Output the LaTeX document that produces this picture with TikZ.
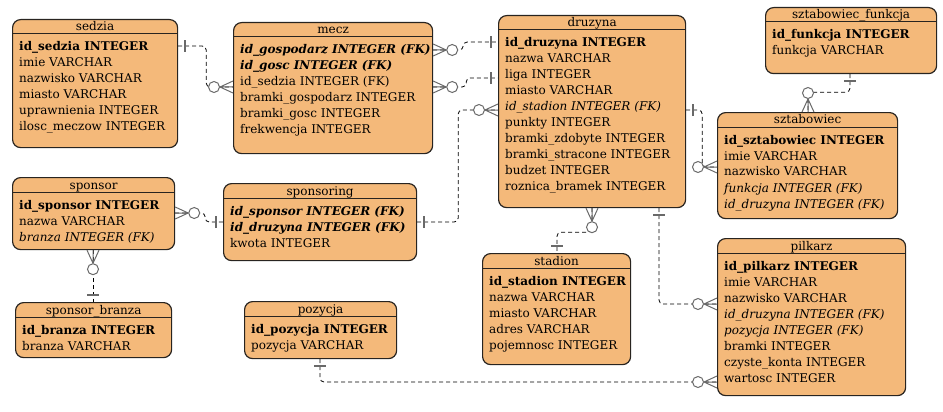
\documentclass[tikz,border=0pt]{standalone}
\usepackage{fontspec}
\setmainfont{DejaVu Serif}
\usetikzlibrary{decorations.markings}

\definecolor{boxfill}{RGB}{244,185,122}
\definecolor{boxline}{RGB}{40,36,32}
\definecolor{markgray}{RGB}{105,105,105}
\newcommand{\fieldfont}{\fontsize{12}{16}\selectfont}
\newcommand{\fieldlist}[1]{\begin{tabular}[t]{@{}l@{}}#1\end{tabular}}

\begin{document}
\begin{tikzpicture}[
        x = 1pt, y = -1pt,
        table/.style = {draw = boxline, fill = boxfill, line width = 1.2pt,
            rounded corners = 8pt, inner sep = 0pt, anchor = north west},
        title/.style = {anchor = base, inner sep = 0pt, font = \fieldfont},
        fields/.style = {anchor = base west, inner sep = 0pt, font = \fieldfont},
        headline/.style = {draw = boxline, line width = 1pt},
        rel/.style = {dash pattern = on 4pt off 3pt, line width = 0.8pt,
            rounded corners = 4pt},
        marker/.style = {solid, draw = markgray, line width = 1pt},
        crow start/.style = {postaction = {decorate, decoration = {markings,
            mark = at position 0 with {%
                \draw[marker] (13pt, 0pt) -- (0pt, 6pt) (13pt, 0pt) -- (0pt, -6pt)
                    (13pt, 0pt) -- (0pt, 0pt);
                \draw[marker, fill = white] (19pt, 0pt) circle (5.5pt);}}}},
        crow end/.style = {postaction = {decorate, decoration = {markings,
            mark = at position 1 with {%
                \draw[marker] (-13pt, 0pt) -- (0pt, 6pt) (-13pt, 0pt) -- (0pt, -6pt)
                    (-13pt, 0pt) -- (0pt, 0pt);
                \draw[marker, fill = white] (-19pt, 0pt) circle (5.5pt);}}}},
        bar start/.style = {postaction = {decorate, decoration = {markings,
            mark = at position 0 with {%
                \draw[marker, line width = 2pt] (7pt, -6pt) -- (7pt, 6pt);}}}},
        bar end/.style = {postaction = {decorate, decoration = {markings,
            mark = at position 1 with {%
                \draw[marker, line width = 2pt] (-7pt, -6pt) -- (-7pt, 6pt);}}}}
    ]

        \useasboundingbox (0, 0) rectangle (943, 412);

        % Table boxes.
        \node[table, minimum width = 165pt, minimum height = 128pt] (sedzia) at (12, 19) {};
        \node[table, minimum width = 199pt, minimum height = 131pt] (mecz) at (233, 22) {};
        \node[table, minimum width = 187pt, minimum height = 192pt] (druzyna) at (498, 15) {};
        \node[table, minimum width = 171pt, minimum height = 66pt] (funkcja) at (765, 7) {};
        \node[table, minimum width = 180pt, minimum height = 106pt] (sztabowiec) at (717, 112) {};
        \node[table, minimum width = 162pt, minimum height = 72pt] (sponsor) at (12, 177) {};
        \node[table, minimum width = 193pt, minimum height = 77pt] (sponsoring) at (223, 183) {};
        \node[table, minimum width = 156pt, minimum height = 55pt] (branza) at (15, 302) {};
        \node[table, minimum width = 152pt, minimum height = 57pt] (pozycja) at (244, 301) {};
        \node[table, minimum width = 148pt, minimum height = 111pt] (stadion) at (482, 253) {};
        \node[table, minimum width = 188pt, minimum height = 157pt] (pilkarz) at (717, 238) {};

        % Titles and header lines.
        \foreach \t/\name in {sedzia/sedzia, mecz/mecz, druzyna/druzyna,
                funkcja/sztabowiec\_funkcja, sztabowiec/sztabowiec, sponsor/sponsor,
                sponsoring/sponsoring, branza/sponsor\_branza, pozycja/pozycja,
                stadion/stadion, pilkarz/pilkarz}{%
            \node[title] (\t-title) at ([yshift = -12pt]\t.north) {\name};
            \draw[headline] ([yshift = -15pt]\t.north west) to ([yshift = -15pt]\t.north east);
        }

        % Columns.
        \node[fields] (sedzia-fields) at ([shift = {(7pt, -32pt)}]sedzia.north west) {\fieldlist{%
            \textbf{id\_sedzia INTEGER}\\ imie VARCHAR\\ nazwisko VARCHAR\\
            miasto VARCHAR\\ uprawnienia INTEGER\\ ilosc\_meczow INTEGER}};
        \node[fields] (mecz-fields) at ([shift = {(7pt, -32pt)}]mecz.north west) {\fieldlist{%
            \textbf{\textit{id\_gospodarz INTEGER (FK)}}\\ \textbf{\textit{id\_gosc INTEGER (FK)}}\\
            id\_sedzia INTEGER (FK)\\ bramki\_gospodarz INTEGER\\
            bramki\_gosc INTEGER\\ frekwencja INTEGER}};
        \node[fields] (druzyna-fields) at ([shift = {(7pt, -32pt)}]druzyna.north west) {\fieldlist{%
            \textbf{id\_druzyna INTEGER}\\ nazwa VARCHAR\\ liga INTEGER\\ miasto VARCHAR\\
            \textit{id\_stadion INTEGER (FK)}\\ punkty INTEGER\\ bramki\_zdobyte INTEGER\\
            bramki\_stracone INTEGER\\ budzet INTEGER\\ roznica\_bramek INTEGER}};
        \node[fields] (funkcja-fields) at ([shift = {(7pt, -32pt)}]funkcja.north west) {\fieldlist{%
            \textbf{id\_funkcja INTEGER}\\ funkcja VARCHAR}};
        \node[fields] (sztabowiec-fields) at ([shift = {(7pt, -32pt)}]sztabowiec.north west) {\fieldlist{%
            \textbf{id\_sztabowiec INTEGER}\\ imie VARCHAR\\ nazwisko VARCHAR\\
            \textit{funkcja INTEGER (FK)}\\ \textit{id\_druzyna INTEGER (FK)}}};
        \node[fields] (sponsor-fields) at ([shift = {(7pt, -32pt)}]sponsor.north west) {\fieldlist{%
            \textbf{id\_sponsor INTEGER}\\ nazwa VARCHAR\\ \textit{branza INTEGER (FK)}}};
        \node[fields] (sponsoring-fields) at ([shift = {(7pt, -32pt)}]sponsoring.north west) {\fieldlist{%
            \textbf{\textit{id\_sponsor INTEGER (FK)}}\\ \textbf{\textit{id\_druzyna INTEGER (FK)}}\\
            kwota INTEGER}};
        \node[fields] (branza-fields) at ([shift = {(7pt, -32pt)}]branza.north west) {\fieldlist{%
            \textbf{id\_branza INTEGER}\\ branza VARCHAR}};
        \node[fields] (pozycja-fields) at ([shift = {(7pt, -32pt)}]pozycja.north west) {\fieldlist{%
            \textbf{id\_pozycja INTEGER}\\ pozycja VARCHAR}};
        \node[fields] (stadion-fields) at ([shift = {(7pt, -32pt)}]stadion.north west) {\fieldlist{%
            \textbf{id\_stadion INTEGER}\\ nazwa VARCHAR\\ miasto VARCHAR\\
            adres VARCHAR\\ pojemnosc INTEGER}};
        \node[fields] (pilkarz-fields) at ([shift = {(7pt, -32pt)}]pilkarz.north west) {\fieldlist{%
            \textbf{id\_pilkarz INTEGER}\\ imie VARCHAR\\ nazwisko VARCHAR\\
            \textit{id\_druzyna INTEGER (FK)}\\ \textit{pozycja INTEGER (FK)}\\
            bramki INTEGER\\ czyste\_konta INTEGER\\ wartosc INTEGER}};

        % Relationships.
        \draw[rel, bar start, crow end] (sedzia.east |- 0, 46) -- ++(28, 0) |- (mecz.west |- 0, 87);
        \draw[rel, crow start, bar end] (mecz.east |- 0, 50) -- ++(30, 0) |- (druzyna.west |- 0, 42);
        \draw[rel, crow start, bar end] (mecz.east |- 0, 87) -- ++(33, 0) |- (druzyna.west |- 0, 78);
        \draw[rel, bar start, crow end] (sponsoring.east |- 0, 222) -- ++(41, 0) |- (druzyna.west |- 0, 110);
        \draw[rel, crow start, bar end] (sponsor.east |- 0, 213) -- ++(30, 0) |- (sponsoring.west |- 0, 222);
        \draw[rel, crow start, bar end] (sponsor.south -| 93, 0) to (branza.north -| 93, 0);
        \draw[rel, crow start, bar end] (druzyna.south -| 592, 0) -- ++(0, 24) -| (stadion.north -| 557, 0);
        \draw[rel, bar start, crow end] (druzyna.south -| 659, 0) |- (pilkarz.west |- 0, 304);
        \draw[rel, bar start, crow end] (pozycja.south -| 320, 0) |- (pilkarz.west |- 0, 382);
        \draw[rel, bar start, crow end] (druzyna.east |- 0, 110) -- ++(16, 0) |- (sztabowiec.west |- 0, 167);
        \draw[rel, bar start, crow end] (funkcja.south -| 850, 0) -- ++(0, 18) -| (sztabowiec.north -| 808, 0);
    \end{tikzpicture}
\end{document}
